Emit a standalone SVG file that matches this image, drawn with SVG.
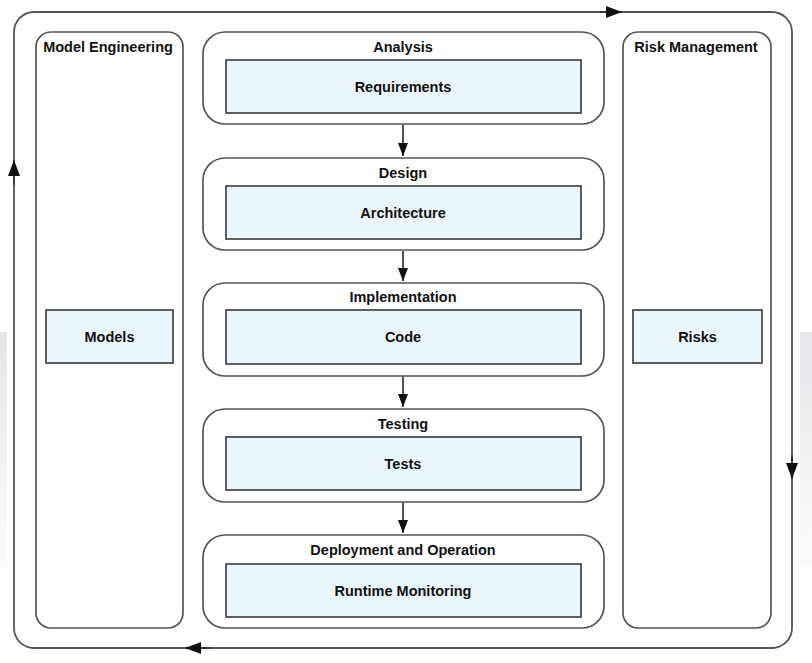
<svg xmlns="http://www.w3.org/2000/svg" width="812" height="663" viewBox="0 0 812 663">
<defs>
<linearGradient id="band" x1="0" y1="0" x2="0" y2="1">
<stop offset="0" stop-color="#e7e7eb"/>
<stop offset="1" stop-color="#fbfbfb"/>
</linearGradient>
<marker id="ah" viewBox="0 0 16 12" refX="16" refY="6" markerWidth="16" markerHeight="12" markerUnits="userSpaceOnUse" orient="auto">
<path d="M0,0 L16,6 L0,12 Z" fill="#111"/>
</marker>
<marker id="ahs" viewBox="0 0 13 10" refX="13" refY="5" markerWidth="13" markerHeight="10" markerUnits="userSpaceOnUse" orient="auto">
<path d="M0,0 L13,5 L0,10 Z" fill="#111"/>
</marker>
<style>
.lane{fill:#fff;stroke:#555;stroke-width:1.7}
.box{fill:#eaf5fc;stroke:#444;stroke-width:1.7}
.ttl{font-family:"Liberation Sans",Arial,sans-serif;font-weight:bold;font-size:14.5px;fill:#111;text-anchor:middle}
.lbl{font-family:"Liberation Sans",Arial,sans-serif;font-weight:bold;font-size:14.5px;fill:#111;text-anchor:middle;dominant-baseline:central}
.con{fill:none;stroke:#333;stroke-width:1.7}
</style>
</defs>
<rect width="812" height="663" fill="#fff"/>
<rect x="0" y="332" width="7" height="235" fill="url(#band)"/>
<rect x="800" y="332" width="12" height="235" fill="url(#band)"/>

<g id="connectors">
<rect x="14" y="12" width="778" height="636" rx="20" ry="20" fill="none" stroke="#555" stroke-width="1.8"/>
<path class="con" d="M600,12 L622,12" marker-end="url(#ah)"/>
<path class="con" d="M792,455 L792,479" marker-end="url(#ah)"/>
<path class="con" d="M210,648 L185,648" marker-end="url(#ah)"/>
<path class="con" d="M14,185 L14,160" marker-end="url(#ah)"/>
<path class="con" d="M403,125 L403,156" marker-end="url(#ahs)"/>
<path class="con" d="M403,251 L403,281" marker-end="url(#ahs)"/>
<path class="con" d="M403,376 L403,407" marker-end="url(#ahs)"/>
<path class="con" d="M403,502 L403,533" marker-end="url(#ahs)"/>
</g>

<g id="model-engineering">
<rect class="lane" x="36" y="32" width="147" height="596" rx="15" ry="15"/>
<text class="ttl" x="108" y="52">Model Engineering</text>
</g>
<g id="models">
<rect class="box" x="46" y="310" width="127" height="53"/>
<text class="lbl" x="109.5" y="336.5">Models</text>
</g>

<g id="risk-management">
<rect class="lane" x="623" y="32" width="148" height="596" rx="15" ry="15"/>
<text class="ttl" x="696" y="52">Risk Management</text>
</g>
<g id="risks">
<rect class="box" x="633" y="310" width="129" height="53"/>
<text class="lbl" x="697.5" y="336.5">Risks</text>
</g>

<g id="analysis">
<rect class="lane" x="203" y="32" width="401" height="92" rx="22" ry="22"/>
<text class="ttl" x="403" y="52">Analysis</text>
<rect class="box" x="226" y="60" width="355" height="53"/>
<text class="lbl" x="403" y="86.5">Requirements</text>
</g>

<g id="design">
<rect class="lane" x="203" y="158" width="401" height="92" rx="22" ry="22"/>
<text class="ttl" x="403" y="178">Design</text>
<rect class="box" x="226" y="186" width="355" height="53"/>
<text class="lbl" x="403" y="212.5">Architecture</text>
</g>

<g id="implementation">
<rect class="lane" x="203" y="283" width="401" height="93" rx="22" ry="22"/>
<text class="ttl" x="403" y="302">Implementation</text>
<rect class="box" x="226" y="310" width="355" height="54"/>
<text class="lbl" x="403" y="337">Code</text>
</g>

<g id="testing">
<rect class="lane" x="203" y="409" width="401" height="93" rx="22" ry="22"/>
<text class="ttl" x="403" y="429">Testing</text>
<rect class="box" x="226" y="437" width="355" height="53"/>
<text class="lbl" x="403" y="463.5">Tests</text>
</g>

<g id="deployment">
<rect class="lane" x="203" y="535" width="401" height="93" rx="22" ry="22"/>
<text class="ttl" x="403" y="555">Deployment and Operation</text>
<rect class="box" x="226" y="564" width="355" height="53"/>
<text class="lbl" x="403" y="590.5">Runtime Monitoring</text>
</g>
</svg>
